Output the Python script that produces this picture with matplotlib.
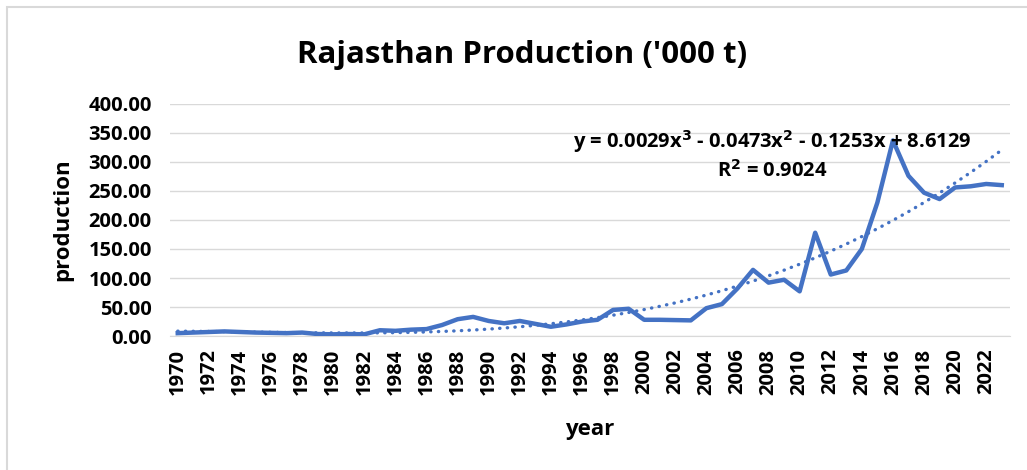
import numpy as np
import matplotlib
matplotlib.use("Agg")
from matplotlib import pyplot as plt
from matplotlib.patches import Rectangle

# data
years = list(range(1970, 2024))
production = [5, 6, 7, 8, 7, 6, 5.5, 5, 6, 3.5,
              3, 3.5, 3, 10, 9, 11, 12, 19, 29, 33,
              26, 22, 26, 21, 16, 20, 25, 28, 45, 47,
              28, 28, 27.5, 27, 48, 55, 82, 114, 92, 97,
              77, 178, 106, 113, 150, 230, 337, 276, 247, 236,
              256, 258, 262, 260]
# poly trendline coefficients as printed on the chart (x = 1..n)
trend_coef = [0.0029, -0.0473, -0.1253, 8.6129]
r_squared = 0.9024

blue = '#4472C4'
plt.rcParams['font.family'] = ['Open Sans', 'DejaVu Sans']
plt.rcParams['font.weight'] = 'bold'
plt.rcParams['mathtext.default'] = 'bf'

fig = plt.figure(figsize=(10.27, 4.70), dpi=100)
ax = fig.add_axes([0.1655, 0.285, 0.8175, 0.494])

x = np.arange(len(years))
ax.plot(x, production, color=blue, lw=3.2, solid_joinstyle='round', zorder=3)
xt = np.arange(1, len(years) + 1)
ax.plot(x, np.polyval(trend_coef, xt), color=blue, lw=2.4, ls=(0, (0.1, 2.2)),
        dash_capstyle='round', zorder=2)

ax.set_xlim(-0.5, len(years) - 0.5)
ax.set_ylim(0, 400)
ax.set_yticks(np.arange(0, 401, 50))
ax.set_yticklabels(['%.2f' % v for v in np.arange(0, 401, 50)], fontsize=14.5, fontweight='bold')
ax.set_xticks(x[::2])
ax.set_xticklabels([str(y) for y in years[::2]], rotation=90, fontsize=14.5, fontweight='bold')
ax.tick_params(axis='y', length=0, pad=13)
ax.tick_params(axis='x', length=0, pad=9)
ax.grid(axis='y', color='#D9D9D9', lw=1)
ax.set_axisbelow(True)
for s in ['top', 'right', 'left']:
    ax.spines[s].set_visible(False)
ax.spines['bottom'].set_color('#D9D9D9')

ax.set_xlabel('year', fontsize=16, fontweight='bold', labelpad=17)
ax.set_ylabel('production', fontsize=16, fontweight='bold', labelpad=11)

fig.text(0.508, 0.882, "Rajasthan Production ('000 t)", ha='center', va='center',
         fontsize=22.5, fontweight='bold')
eq = 'y = %.4fx$^3$ - %.4fx$^2$ - %.4fx + %.4f' % (trend_coef[0], -trend_coef[1],
                                                   -trend_coef[2], trend_coef[3])
fig.text(0.752, 0.698, eq, ha='center', va='center', fontsize=14.5, fontweight='bold')
fig.text(0.752, 0.636, 'R$^2$ = %.4f' % r_squared, ha='center', va='center',
         fontsize=14.5, fontweight='bold')

fig.patches.append(Rectangle((7 / 1027, -0.1), 1.2, 1 - 7 / 470 + 0.1, transform=fig.transFigure,
                             fill=False, edgecolor='#D9D9D9', lw=1.5))

fig.savefig('out.png', dpi=100)
